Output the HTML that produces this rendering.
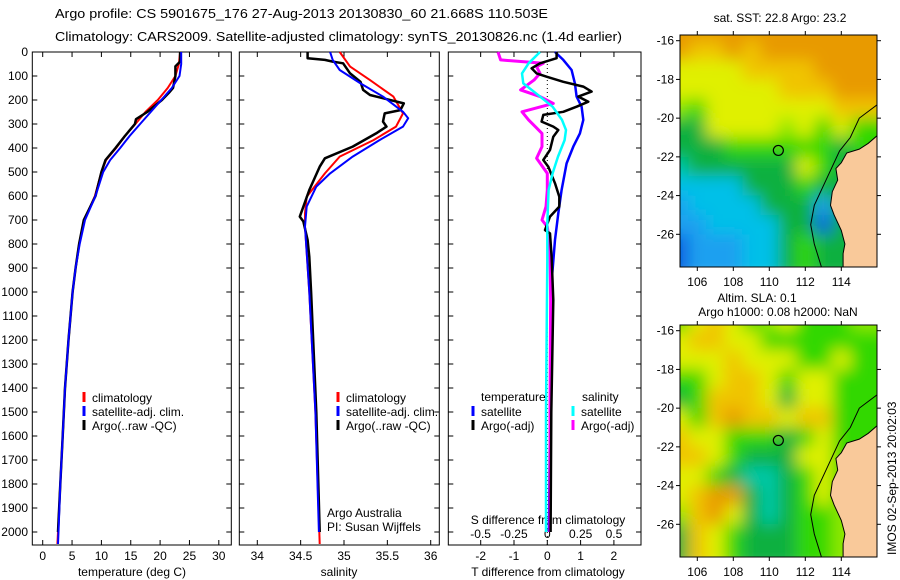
<!DOCTYPE html>
<html><head><meta charset="utf-8"><style>
body{margin:0;background:#fff;}
svg{display:block;font-family:"Liberation Sans",sans-serif;}
</style></head><body>
<svg id="root" width="900" height="580" viewBox="0 0 900 580">
<defs>
<filter id="blur" x="-20%" y="-20%" width="140%" height="140%"><feGaussianBlur stdDeviation="8"/></filter>
<clipPath id="clipTop"><rect x="680" y="35" width="197" height="232"/></clipPath>
<clipPath id="clipBot"><rect x="680" y="325" width="197" height="232"/></clipPath>
</defs>
<text x="55" y="18" font-size="13" textLength="493" lengthAdjust="spacingAndGlyphs">Argo profile: CS 5901675_176 27-Aug-2013 20130830_60 21.668S 110.503E</text>
<text x="55" y="41" font-size="13" textLength="567" lengthAdjust="spacingAndGlyphs">Climatology: CARS2009. Satellite-adjusted climatology: synTS_20130826.nc (1.4d earlier)</text>
<g id="g"></g>
</svg>
<script>
// ---------- DATA ----------
const depthTicks = [0,100,200,300,400,500,600,700,800,900,1000,1100,1200,1300,1400,1500,1600,1700,1800,1900,2000];
const tempTicks = [0,5,10,15,20,25,30];
const salTicks = [34,34.5,35,35.5,36];
const tdiffTicks = [-2,-1,0,1,2];
const sdiffTicks = [-0.5,-0.25,0,0.25,0.5];
const sdiffTickLabels = ["-0.5","-0.25","0","0.25","0.5"];

const tClimDepth = [0,50,100,150,200,250,300,350,400,450,500,600,700,800,900,1000,1200,1400,1600,1800,2000,2050];
const tClim = [23.4,23.2,22.6,21.3,19.6,17.5,15.8,14.0,12.5,10.8,10.0,8.9,7.1,6.2,5.6,5.1,4.4,3.8,3.4,3.0,2.6,2.5];
const tSatDepth = [0,50,100,150,200,250,300,350,400,450,500,600,700,800,900,1000,1200,1400,1600,1800,2000,2050];
const tSat = [23.6,23.6,23.3,22.0,20.2,18.4,16.6,14.8,13.2,11.5,10.3,9.0,7.2,6.3,5.6,5.1,4.4,3.8,3.4,3.0,2.7,2.6];
const tArgoDepth = [0,40,60,100,150,170,200,250,280,300,350,400,450,500,600,700,800,900,1000,1200,1400,1600,1800,2000];
const tArgo = [23.4,23.4,22.6,22.6,22.2,21.5,20.3,17.8,15.9,15.7,14.0,12.4,10.7,10.0,9.0,7.0,6.2,5.6,5.1,4.4,3.8,3.4,3.0,2.6];

const sClimDepth = [0,61,117,186,256,311,367,436,506,603,672,728,1000,1500,2050];
const sClim = [34.95,35.07,35.30,35.57,35.68,35.60,35.34,34.95,34.78,34.57,34.55,34.55,34.60,34.67,34.72];
const sSatDepth = [0,33,75,131,186,249,276,311,367,436,506,561,644,728,1000,1500,2000];
const sSat = [34.84,34.87,34.95,35.19,35.45,35.68,35.74,35.68,35.41,35.10,34.84,34.68,34.57,34.55,34.60,34.67,34.71];
const sArgoDepth = [0,26,33,40,47,89,124,158,179,214,242,256,290,311,339,394,443,478,575,686,706,783,853,1000,1500,2000];
const sArgo = [34.58,34.58,34.78,34.87,34.99,35.07,35.19,35.22,35.30,35.69,35.65,35.47,35.45,35.49,35.37,35.10,34.78,34.72,34.60,34.49,34.53,34.58,34.60,34.62,34.68,34.72];

const dTSatDepth = [0,33,75,131,186,228,283,339,394,464,575,672,783,922,1033,1500,2000];
const dTSat = [0.23,0.48,0.73,0.83,0.88,1.03,1.08,0.98,0.78,0.58,0.43,0.33,0.23,0.15,0.13,0.08,0.05];
const dTArgoDepth = [0,26,47,68,89,103,124,144,165,186,207,228,249,262,290,311,325,353,408,450,478,547,603,644,686,742,756,853,1033,1500,2000];
const dTArgo = [0.28,0.28,-0.22,-0.47,-0.32,-0.02,0.48,1.08,1.33,0.93,1.23,0.88,0.48,-0.12,-0.17,0.18,0.33,0.18,0.08,-0.12,0.03,0.23,0.36,0.36,0.08,-0.07,0.08,0.13,0.18,0.12,0.1];
const dSSatDepth = [0,47,89,131,172,228,283,325,367,436,506,575,714,867,1500,2000];
const dSSat = [-0.055,-0.14,-0.19,-0.18,-0.085,0.04,0.11,0.14,0.13,0.08,0.04,0.01,0.0,0.0,-0.01,-0.01];
const dSArgoDepth = [0,33,47,61,89,117,158,186,214,249,283,339,394,443,506,575,644,700,728,811,1033,1500,2000];
const dSArgo = [-0.37,-0.35,-0.03,-0.08,-0.055,-0.1,-0.2,-0.055,0.045,-0.19,-0.14,-0.04,-0.04,-0.08,0.0,0.0,-0.01,-0.04,0.0,0.02,0.025,0.02,0.02];

const lonTicks = [106,108,110,112,114];
const latTicks = [-16,-18,-20,-22,-24,-26];
// map colour grids (rows lat -16..-27, cols lon 105..115)
const sstGrid = ["OOOOOOOOOOO","OYYOYOOOOOO","LLLLYYYYOOO","LLLLLLYYYOO","GgLLLLLLLYY","DDLLLLGLgLg","DDDggggggDg","TDDDDDDLgDD","CCCCDDDgDDD","BCCCCDDDBDD","BBCCCCDDNDD","NBBBCCDgDDD"];
const slaGrid = ["gLYLgGLgggG","LYYLLgggggg","LLLYLLLggLg","ggLYYLgLLgg","DgYYYLDLLgg","LgYOYYLYYgg","YLLgggDgLgg","YYLgDDDLLgg","LLgDTTDgLgg","LYOODTDgLgg","GYOLDTDggGG","DYLgDDDggGG"];
const argoLon = 110.503, argoLat = -21.668;

// ---------- helpers ----------
const NS="http://www.w3.org/2000/svg";
const G=document.getElementById('g');
function mk(tag,attrs,parent){const e=document.createElementNS(NS,tag);for(const k in attrs)e.setAttribute(k,attrs[k]);(parent||G).appendChild(e);return e;}
const Y0=52, PXM=0.24, BOT=545;
const yD = d => Y0 + d*PXM;
const xT = t => 42.7 + t*5.87;
const xS = s => 257.3 + (s-34)*86.7;
const xDT = t => 547.3 + t*33.3;
const xDS = s => 547.3 + s*133.3;
const panels=[[32.3,231.3],[239.3,439.3],[448.3,641]];

function line(xs,ds,fx,color,w,name){
  const pts=xs.map((v,i)=>fx(v).toFixed(1)+','+yD(ds[i]).toFixed(1)).join(' ');
  const p=mk('polyline',{points:pts,fill:'none',stroke:color,'stroke-width':w,'stroke-linejoin':'round'});
  
  
}
function txt(x,y,s,opt,parent){const t=mk('text',Object.assign({x:x,y:y,'font-size':12},opt||{}),parent);t.textContent=s;return t;}

panels.forEach((p,pi)=>{
  const r=mk('rect',{x:p[0],y:Y0,width:p[1]-p[0],height:BOT-Y0,fill:'none',stroke:'#000','stroke-width':1});
  
  
  depthTicks.forEach(d=>{
    mk('line',{x1:p[0],x2:p[0]+5,y1:yD(d),y2:yD(d),stroke:'#000'});
    mk('line',{x1:p[1]-5,x2:p[1],y1:yD(d),y2:yD(d),stroke:'#000'});
  });
});
depthTicks.forEach(d=>{
  const t=txt(28,yD(d)+4,String(d),{'text-anchor':'end'});
  
  
});
function xticks(ticks,fx,labels,p,ly){
  ticks.forEach((v,i)=>{
    const x=fx(v);
    mk('line',{x1:x,x2:x,y1:BOT,y2:BOT-5,stroke:'#000'});
    mk('line',{x1:x,x2:x,y1:Y0,y2:Y0+5,stroke:'#000'});
    if(ly){const t=txt(x,ly,labels[i],{'text-anchor':'middle'});
      
      }
  });
}
xticks(tempTicks,xT,tempTicks.map(String),panels[0],560);
xticks(salTicks,xS,salTicks.map(String),panels[1],560);
tdiffTicks.forEach((v,i)=>{const x=xDT(v);mk('line',{x1:x,x2:x,y1:BOT,y2:BOT-5,stroke:'#000'});
  const t=txt(x,560,String(v),{'text-anchor':'middle'});});
sdiffTicks.forEach((v,i)=>{const x=xDS(v);mk('line',{x1:x,x2:x,y1:Y0,y2:Y0+5,stroke:'#000'});
  const t=txt(x,538,sdiffTickLabels[i],{'text-anchor':'middle'});});
[['temperature (deg C)',132],['salinity',339],['T difference from climatology',548]].forEach(a=>{
  const t=txt(a[1],576,a[0],{'text-anchor':'middle'});});
{const t=txt(548,524,'S difference from climatology',{'text-anchor':'middle'});}

mk('line',{x1:xDT(0),x2:xDT(0),y1:Y0,y2:BOT,stroke:'#000','stroke-dasharray':'1,3'});

line(tClim,tClimDepth,xT,'#f00',2,'temp-climatology-line');
line(tArgo,tArgoDepth,xT,'#000',2.5,'temp-argo-line');
line(tSat,tSatDepth,xT,'#00f',2,'temp-satellite-line');
line(sClim,sClimDepth,xS,'#f00',2,'sal-climatology-line');
line(sArgo,sArgoDepth,xS,'#000',2.5,'sal-argo-line');
line(sSat,sSatDepth,xS,'#00f',2,'sal-satellite-line');
line(dTSat,dTSatDepth,xDT,'#00f',2.5,'tdiff-satellite-line');
line(dSArgo,dSArgoDepth,xDS,'#f0f',3,'sdiff-argo-line');
line(dTArgo,dTArgoDepth,xDT,'#000',2.5,'tdiff-argo-line');
line(dSSat,dSSatDepth,xDS,'#0ff',2.5,'sdiff-satellite-line');

function leg(x,y,color,label,name){
  const g=mk('g',{});
  mk('line',{x1:x,x2:x,y1:y-10,y2:y,stroke:color,'stroke-width':3},g);
  txt(x+8,y,label,{},g);
}
leg(84,402,'#f00','climatology','legend-climatology');
leg(84,416,'#00f','satellite-adj. clim.','legend-satellite-adj');
leg(84,430,'#000','Argo(..raw -QC)','legend-argo');
leg(338,402,'#f00','climatology','legend-climatology-2');
leg(338,416,'#00f','satellite-adj. clim.','legend-satellite-adj-2');
leg(338,430,'#000','Argo(..raw -QC)','legend-argo-2');
{const t=txt(481,401,'temperature');}
{const t=txt(582,401,'salinity');}
leg(473,416,'#00f','satellite','legend-t-satellite');
leg(473,430,'#000','Argo(-adj)','legend-t-argo');
leg(573,416,'#0ff','satellite','legend-s-satellite');
leg(573,430,'#f0f','Argo(-adj)','legend-s-argo');
{const t=txt(327,517,'Argo Australia');}
{const t=txt(327,531,'PI: Susan Wijffels');}

// ---------- maps ----------
const COL={O:'#e89a00',Y:'#f0c400',L:'#e0f000',G:'#90e800',g:'#30d800',D:'#10b040',T:'#00c8a8',C:'#00c0e8',B:'#1ca0f0',N:'#1060e0'};
const mlon = l => 679.3 + (l-105)*18;
function drawMap(top,grid,clip,name){
  const mlat = l => top+5.7 + (-16-l)*19.36;
  const g=mk('g',{'clip-path':'url(#'+clip+')'});
  
  
  const cells=mk('g',{filter:'url(#blur)'},g);
  grid.forEach((row,r)=>{[...row].forEach((c,ci)=>{
    const lat=-15.5-r, lon=105+ci;
    let x=mlon(lon)-9, w=18, y=mlat(lat)-9.7, h=19.4;
    if(ci===0){x-=20;w+=20;} if(ci===row.length-1){w+=25;}
    if(r===0){y-=20;h+=20;} if(r===grid.length-1){h+=25;}
    mk('rect',{x:x,y:y,width:w+0.5,height:h+0.5,fill:COL[c]},cells);
  });});
  const land=[[116,-20.9],[115.5,-21.3],[115,-21.6],[114.3,-21.8],[114,-22.3],[113.7,-22.6],[113.8,-23.2],[113.5,-23.8],[113.4,-24.5],[113.6,-25],[114,-25.8],[114.2,-26.5],[114.1,-27],[114.1,-28],[117,-28],[117,-20.9]];
  const lp=mk('polygon',{points:land.map(p=>mlon(p[0])+','+mlat(p[1])).join(' '),fill:'#f9c99a',stroke:'#000','stroke-width':1},g);
  
  
  const iso=[[116,-19.3],[115,-20],[114.5,-21],[113.9,-21.7],[113.5,-22.5],[113,-23.5],[112.5,-24.5],[112.3,-25.5],[112.5,-26.5],[113,-28]];
  mk('polyline',{points:iso.map(p=>mlon(p[0])+','+mlat(p[1])).join(' '),fill:'none',stroke:'#000','stroke-width':1},g);
  mk('rect',{x:680,y:top,width:197,height:232,fill:'none',stroke:'#000'});
  const c=mk('circle',{cx:mlon(argoLon),cy:mlat(argoLat),r:5,fill:'none',stroke:'#000','stroke-width':1.2});
  
  
  lonTicks.forEach(l=>{const x=mlon(l);mk('line',{x1:x,x2:x,y1:top,y2:top-4,stroke:'#000'});
    mk('line',{x1:x,x2:x,y1:top+232,y2:top+236,stroke:'#000'});
    const t=txt(x,top+251,String(l),{'text-anchor':'middle'});});
  latTicks.forEach(l=>{const y=mlat(l);mk('line',{x1:680,x2:676,y1:y,y2:y,stroke:'#000'});
    mk('line',{x1:877,x2:881,y1:y,y2:y,stroke:'#000'});
    const t=txt(674,y+4,String(l),{'text-anchor':'end'});});
}
drawMap(35,sstGrid,'clipTop','sst-map');
drawMap(325,slaGrid,'clipBot','sla-map');
{const t=txt(780,22,'sat. SST: 22.8 Argo: 23.2',{'text-anchor':'middle','font-size':12});}
{const t=txt(757,302,'Altim. SLA: 0.1',{'text-anchor':'middle','font-size':12});}
{const t=txt(778,316,'Argo h1000: 0.08 h2000: NaN',{'text-anchor':'middle','font-size':12});}
{const t=txt(0,0,'IMOS 02-Sep-2013 20:02:03',{'font-size':12,transform:'translate(896,555) rotate(-90)'});}
</script>
</body></html>
